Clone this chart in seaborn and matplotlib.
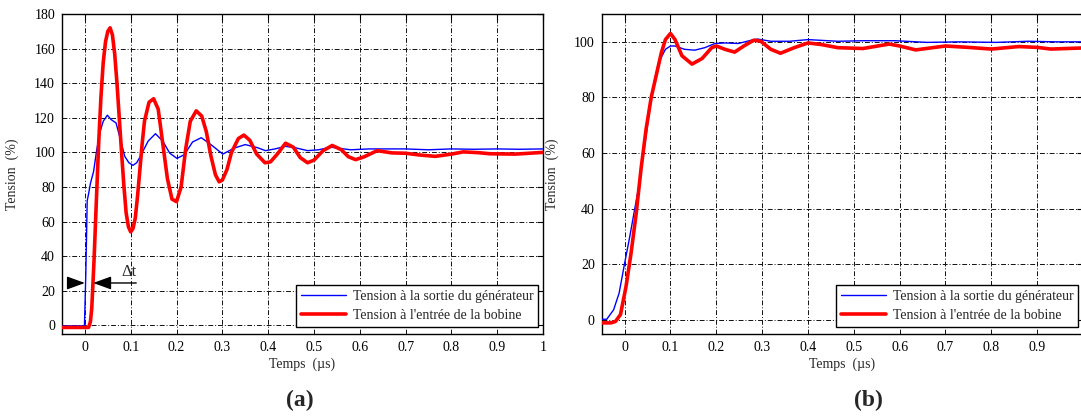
import matplotlib
matplotlib.use("Agg")
import matplotlib.pyplot as plt
import pandas as pd
import seaborn as sns

# panel (a): time in us, voltage in %
gen_t_a = [-0.05, -0.001, 0.002, 0.005, 0.008, 0.012, 0.019, 0.025, 0.032, 0.04,
           0.049, 0.057, 0.068, 0.078, 0.087, 0.096, 0.105, 0.113, 0.121, 0.138,
           0.154, 0.17, 0.185, 0.201, 0.217, 0.235, 0.254, 0.275, 0.301, 0.326,
           0.35, 0.377, 0.394, 0.415, 0.438, 0.462, 0.486, 0.51, 0.537, 0.58,
           0.62, 0.66, 0.7, 0.75, 0.8, 0.85, 0.9, 0.95, 1.0]
gen_v_a = [-0.3, -0.3, 30, 72, 76, 82, 89, 100, 111, 118,
           121.5, 119, 117, 107, 97.7, 94, 92.5, 94, 97.7, 106.5,
           110.8, 106.5, 99.6, 96.5, 98.7, 106, 108.5, 104.5, 99, 102.5,
           104.5, 102.7, 101, 102, 103.5, 102.5, 101, 101.5, 103, 101.5,
           102, 102, 102, 101.5, 102, 101.8, 102, 101.8, 102]

bob_t_a = [-0.05, 0.008, 0.012, 0.015, 0.02, 0.025, 0.03, 0.035, 0.04, 0.045,
           0.05, 0.055, 0.06, 0.065, 0.07, 0.075, 0.08, 0.085, 0.09, 0.095,
           0.1, 0.105, 0.11, 0.115, 0.12, 0.125, 0.13, 0.14, 0.15, 0.16,
           0.17, 0.18, 0.19, 0.2, 0.21, 0.22, 0.23, 0.243, 0.255, 0.265,
           0.275, 0.285, 0.293, 0.30, 0.31, 0.32, 0.335, 0.347, 0.36, 0.375,
           0.393, 0.405, 0.42, 0.438, 0.455, 0.47, 0.486, 0.5, 0.52, 0.54,
           0.56, 0.575, 0.591, 0.61, 0.638, 0.67, 0.7, 0.73, 0.765, 0.8,
           0.826, 0.86, 0.884, 0.94, 1.0]
bob_v_a = [-1.2, -1.2, 2, 10, 38, 72, 105, 132, 152, 164,
           170, 172, 168, 157, 140, 120, 100, 81, 65, 57,
           54, 56, 62, 75, 90, 105, 118, 129, 131, 125,
           105, 85, 73, 71.5, 80, 102, 118, 124, 121, 112,
           98, 87, 83, 84, 90, 100, 108, 110, 107, 99,
           94, 94.5, 99, 105.3, 103, 97, 94, 95.5, 101, 104,
           101.5, 97.5, 95.8, 97.5, 101, 99.7, 99.5, 98.5, 97.7, 99,
           100.3, 99.8, 99.2, 99, 100]

# panel (b)
gen_t_b = [-0.05, -0.039, -0.024, -0.012, 0.0, 0.011, 0.022, 0.033, 0.044, 0.055,
           0.065, 0.074, 0.089, 0.1, 0.11, 0.131, 0.153, 0.175, 0.197, 0.219,
           0.248, 0.277, 0.29, 0.319, 0.36, 0.4, 0.465, 0.52, 0.59, 0.66,
           0.73, 0.81, 0.88, 0.94, 1.0]
gen_v_b = [0.3, 0.3, 3.7, 9.7, 20.4, 29.8, 39.9, 50, 63, 76,
           86, 92.5, 97.3, 98.5, 98.5, 97.3, 97, 97.9, 99.4, 99.6,
           99.4, 100.6, 101, 100.2, 100.2, 100.8, 100.2, 100.4, 100.4, 99.8,
           100, 99.8, 100.2, 100, 100]

bob_t_b = [-0.05, -0.03, -0.02, -0.009, 0.003, 0.014, 0.025, 0.036, 0.047, 0.058,
           0.069, 0.08, 0.089, 0.1, 0.11, 0.125, 0.147, 0.169, 0.19, 0.2,
           0.219, 0.24, 0.26, 0.282, 0.297, 0.319, 0.34, 0.37, 0.4, 0.43,
           0.465, 0.52, 0.577, 0.6, 0.635, 0.7, 0.75, 0.8, 0.86, 0.9,
           0.93, 1.0]
bob_v_b = [-1, -1, -0.5, 2, 12, 24, 38, 54.6, 68.8, 80,
           88, 96, 100.8, 103, 100.8, 95, 92, 94, 97.9, 98.5,
           97.3, 96.3, 98.5, 100.6, 100.2, 97.3, 95.9, 97.9, 99.6, 99,
           97.9, 97.6, 99.2, 98.5, 97.1, 98.5, 98, 97.4, 98.3, 98,
           97.4, 97.8]

xticks_a = [0, 0.1, 0.2, 0.3, 0.4, 0.5, 0.6, 0.7, 0.8, 0.9, 1]
xlabels_a = ["0", "0.1", "0.2", "0.3", "0.4", "0.5", "0.6", "0.7", "0.8", "0.9", "1"]
xticks_b = [0, 0.1, 0.2, 0.3, 0.4, 0.5, 0.6, 0.7, 0.8, 0.9]
xlabels_b = ["0", "0.1", "0.2", "0.3", "0.4", "0.5", "0.6", "0.7", "0.8", "0.9"]
yticks_a = [0, 20, 40, 60, 80, 100, 120, 140, 160, 180]
yticks_b = [0, 20, 40, 60, 80, 100]

LABEL_GEN = "Tension à la sortie du générateur"
LABEL_BOB = "Tension à l'entrée de la bobine"

sns.set_style("white")
plt.rcParams["font.family"] = ["Liberation Serif", "DejaVu Serif"]
plt.rcParams["font.size"] = 10

W, H = 1081, 419
fig = plt.figure(figsize=(W / 100, H / 100), dpi=100)


def px_axes(x0, x1, y0, y1):
    return fig.add_axes([x0 / W, 1 - y1 / H, (x1 - x0) / W, (y1 - y0) / H])


def draw_panel(ax, gt, gv, bt, bv, xlim, ylim, xticks, xlabels, yticks):
    gen = pd.DataFrame({"t": gt, "v": gv})
    bob = pd.DataFrame({"t": bt, "v": bv})
    sns.lineplot(data=gen, x="t", y="v", ax=ax, color="#0000ff", linewidth=1.0,
                 sort=False, estimator=None, label=LABEL_GEN, zorder=3)
    sns.lineplot(data=bob, x="t", y="v", ax=ax, color="#ff0000", linewidth=2.6,
                 sort=False, estimator=None, label=LABEL_BOB, zorder=4)
    ax.set_xlim(*xlim)
    ax.set_ylim(*ylim)
    ax.set_xticks(xticks)
    ax.set_xticklabels(xlabels)
    ax.set_yticks(yticks)
    ax.grid(True, color="#111111", linewidth=0.7, linestyle=(0, (5, 2, 1, 2)))
    ax.tick_params(direction="in", length=4, width=0.8, top=True, right=True,
                   labelsize=10, pad=5, colors="black")
    for sp in ax.spines.values():
        sp.set_color("black")
        sp.set_linewidth(1.0)
    ax.set_xlabel("Temps  (µs)", fontsize=10)
    ax.set_ylabel("Tension  (%)", fontsize=10)
    ax.xaxis.set_label_coords(0.5, -0.075)
    ax.yaxis.set_label_coords(-0.089, 0.5)
    leg = ax.legend(loc="lower right", bbox_to_anchor=(0.99, 0.022), fontsize=10,
                    frameon=True, fancybox=False, edgecolor="black",
                    framealpha=1, handlelength=3.2, labelspacing=0.45,
                    borderpad=0.35, handletextpad=0.5, borderaxespad=0)
    leg.get_frame().set_linewidth(1.0)


ax_a = px_axes(62, 543, 14, 334)
draw_panel(ax_a, gen_t_a, gen_v_a, bob_t_a, bob_v_a, (-0.05, 1.0), (-5, 180),
           xticks_a, xlabels_a, yticks_a)

# delta-t marker between the two rising edges
arrow = dict(arrowstyle="-|>,head_length=1.1,head_width=0.4", color="black",
             linewidth=1.0, shrinkA=0, shrinkB=0)
ax_a.annotate("", xy=(0.0, 24.5), xytext=(-0.036, 24.5), arrowprops=arrow, zorder=6)
ax_a.annotate("", xy=(0.018, 24.5), xytext=(0.112, 24.5), arrowprops=arrow, zorder=6)
ax_a.text(0.096, 31, "Δt", fontsize=12, ha="center", va="center")

ax_b = px_axes(601.7, 1083, 14, 334)
draw_panel(ax_b, gen_t_b, gen_v_b, bob_t_b, bob_v_b, (-0.05, 1.0), (-5, 110),
           xticks_b, xlabels_b, yticks_b)

fig.text(300 / W, 1 - 400 / H, "(a)", fontsize=17, fontweight="bold",
         ha="center", va="center")
fig.text(868 / W, 1 - 400 / H, "(b)", fontsize=17, fontweight="bold",
         ha="center", va="center")

fig.savefig("out.png", dpi=100)
